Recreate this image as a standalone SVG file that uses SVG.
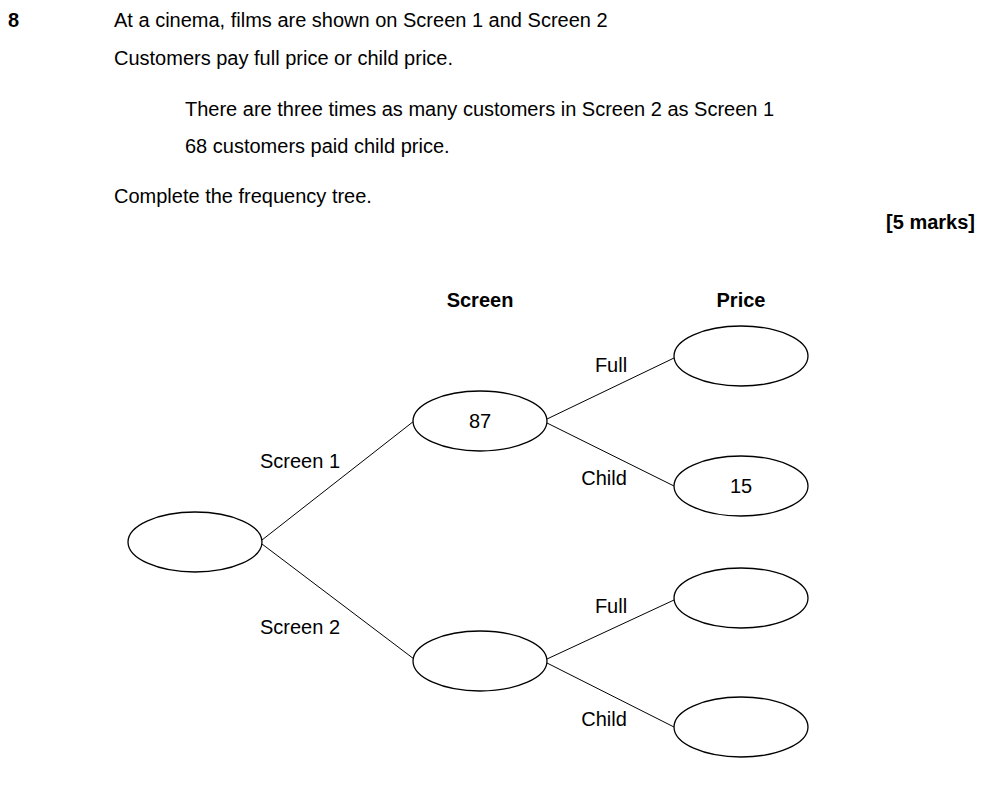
<svg xmlns="http://www.w3.org/2000/svg" width="985" height="788" viewBox="0 0 985 788">
<style>
text{font-family:"Liberation Sans",Arial,sans-serif;font-size:20px;fill:#000}
.b{font-weight:bold}
.n{fill:#fff;stroke:#000;stroke-width:1.3}
.c line{stroke:#000;stroke-width:1}
</style>
<rect width="985" height="788" fill="#fff"/>
<text x="8" y="27" class="b">8</text>
<text x="114" y="27">At a cinema, films are shown on Screen 1 and Screen 2</text>
<text x="114" y="65">Customers pay full price or child price.</text>
<text x="185" y="116">There are three times as many customers in Screen 2 as Screen 1</text>
<text x="185" y="153">68 customers paid child price.</text>
<text x="114" y="203">Complete the frequency tree.</text>
<text x="975" y="229" class="b" text-anchor="end">[5 marks]</text>
<text x="480" y="307" class="b" text-anchor="middle">Screen</text>
<text x="741" y="307" class="b" text-anchor="middle">Price</text>
<g class="c" id="connectors">
<line x1="262" y1="540" x2="414" y2="421"/>
<line x1="262" y1="544" x2="414" y2="659"/>
<line x1="547" y1="419" x2="674" y2="358"/>
<line x1="547" y1="423" x2="674" y2="486"/>
<line x1="547" y1="659" x2="674" y2="600"/>
<line x1="547" y1="663" x2="674" y2="727"/>
</g>
<text x="300" y="468" text-anchor="middle">Screen 1</text>
<text x="300" y="634" text-anchor="middle">Screen 2</text>
<text x="611" y="372" text-anchor="middle">Full</text>
<text x="604" y="485" text-anchor="middle">Child</text>
<text x="611" y="613" text-anchor="middle">Full</text>
<text x="604" y="726" text-anchor="middle">Child</text>
<g id="root"><ellipse class="n" cx="195" cy="542" rx="67" ry="30"/></g>
<g id="s1"><ellipse class="n" cx="480" cy="421" rx="67" ry="30"/><text x="480" y="428" text-anchor="middle">87</text></g>
<g id="s2"><ellipse class="n" cx="480" cy="661" rx="67" ry="30"/></g>
<g id="s1full"><ellipse class="n" cx="741" cy="356" rx="67" ry="30"/></g>
<g id="s1child"><ellipse class="n" cx="741" cy="486" rx="67" ry="30"/><text x="741" y="493" text-anchor="middle">15</text></g>
<g id="s2full"><ellipse class="n" cx="741" cy="598" rx="67" ry="30"/></g>
<g id="s2child"><ellipse class="n" cx="741" cy="727" rx="67" ry="30"/></g>
</svg>
